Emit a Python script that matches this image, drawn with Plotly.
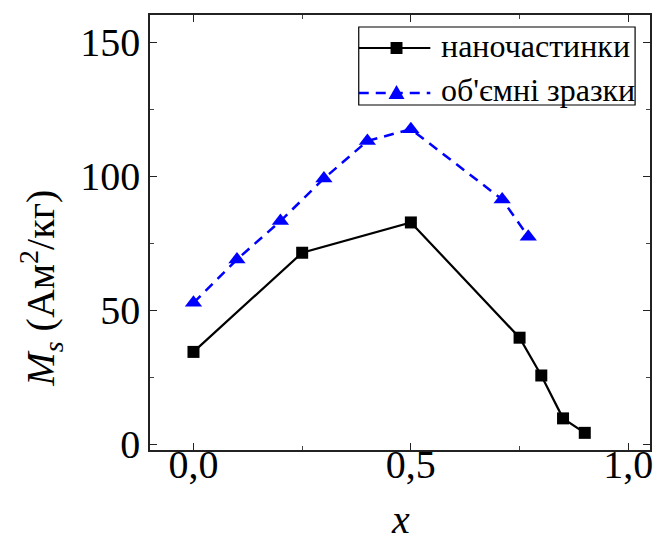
import plotly.graph_objects as go

# Data
x_nano = [0.0, 0.25, 0.5, 0.75, 0.80, 0.85, 0.90]
ms_nano = [34.5, 71.5, 82.8, 39.8, 25.7, 9.7, 4.3]

x_bulk = [0.0, 0.10, 0.20, 0.30, 0.40, 0.50, 0.71, 0.77]
ms_bulk = [52.8, 69.0, 83.3, 99.2, 113.2, 117.6, 91.4, 77.5]

name_nano = "наночастинки"
name_bulk = "об'ємні зразки"
x_ticks = [0.0, 0.5, 1.0]
y_ticks = [0, 50, 100, 150]

FONT = "Liberation Serif, Times New Roman, serif"
BLUE = "#0000ff"

W, H = 660, 541
ML, MR, MT, MB = 150, 7, 15, 91
PW, PH = W - ML - MR, H - MT - MB


def px(xp):
    return (xp - ML) / PW


def py(yp):
    return (H - MB - yp) / PH


fig = go.Figure()
fig.add_trace(go.Scatter(
    x=x_nano, y=ms_nano, name=name_nano, mode="lines+markers",
    line=dict(color="black", width=2.2),
    marker=dict(symbol="square", size=12, color="black"),
))
fig.add_trace(go.Scatter(
    x=x_bulk, y=ms_bulk, name=name_bulk, mode="lines+markers",
    line=dict(color=BLUE, width=2.5, dash="10px,7px"),
    marker=dict(symbol="triangle-up", size=15, color=BLUE),
))

axis_common = dict(
    showline=True, linecolor="#222", linewidth=1.5, mirror="allticks",
    ticks="inside", ticklen=7, tickwidth=1.2, tickcolor="#222",
    showgrid=False, zeroline=False,
    tickfont=dict(family=FONT, size=40, color="black"),
    minor=dict(ticks="inside", ticklen=4, tickwidth=1, tickcolor="#444"),
)

fig.update_xaxes(range=[-0.1, 1.05], tickvals=x_ticks, tickformat=".1f",
                 minor_dtick=0.25, ticklabelstandoff=-22, **axis_common)
fig.update_yaxes(range=[-2.1, 160.2], tickvals=y_ticks,
                 minor_dtick=25, **axis_common)

# custom legend (box, line samples, marker samples, labels)
lx0, lx1, lmk = 360, 432, 398
row1, row2 = 48, 93
shapes = [
    dict(type="rect", xref="paper", yref="paper",
         x0=px(360), x1=px(638), y0=py(105), y1=py(27),
         line=dict(color="black", width=1.2), fillcolor="white", layer="above"),
    dict(type="line", xref="paper", yref="paper",
         x0=px(lx0), x1=px(lx1), y0=py(row1), y1=py(row1),
         line=dict(color="black", width=2.2), layer="above"),
    dict(type="rect", xref="paper", yref="paper",
         x0=px(lmk - 6), x1=px(lmk + 6), y0=py(row1 + 6), y1=py(row1 - 6),
         line=dict(width=0), fillcolor="black", layer="above"),
    dict(type="line", xref="paper", yref="paper",
         x0=px(lx0), x1=px(lx1), y0=py(row2), y1=py(row2),
         line=dict(color=BLUE, width=2.5, dash="10px,7px"), layer="above"),
    dict(type="path", xref="paper", yref="paper",
         path=f"M{px(lmk - 8)},{py(row2 + 6)} L{px(lmk + 8)},{py(row2 + 6)} "
              f"L{px(lmk)},{py(row2 - 8)} Z",
         line=dict(width=0), fillcolor=BLUE, layer="above"),
]

fig.update_layout(
    width=W, height=H,
    margin=dict(l=ML, r=MR, t=MT, b=MB),
    paper_bgcolor="white", plot_bgcolor="white",
    separators=", ",
    font=dict(family=FONT, color="black"),
    showlegend=False,
    shapes=shapes,
    annotations=[
        dict(text=name_nano, xref="paper", yref="paper",
             x=px(441), y=py(row1 - 2), xanchor="left", yanchor="middle",
             showarrow=False, font=dict(family=FONT, size=32, color="black")),
        dict(text=name_bulk, xref="paper", yref="paper",
             x=px(441), y=py(row2 - 3), xanchor="left", yanchor="middle",
             showarrow=False, font=dict(family=FONT, size=32, color="black")),
        dict(text="<i>M</i><sub><i>s</i></sub> (Ам<sup>2</sup>/кг)",
             xref="paper", yref="paper", x=px(40), y=py(288),
             xanchor="center", yanchor="middle", textangle=-90,
             showarrow=False, font=dict(family=FONT, size=40, color="black")),
        dict(text="<i>x</i>", xref="paper", yref="paper",
             x=0.5, y=py(519), xanchor="center", yanchor="middle",
             showarrow=False, font=dict(family=FONT, size=40, color="black")),
    ],
)

fig.write_html("out.html")
